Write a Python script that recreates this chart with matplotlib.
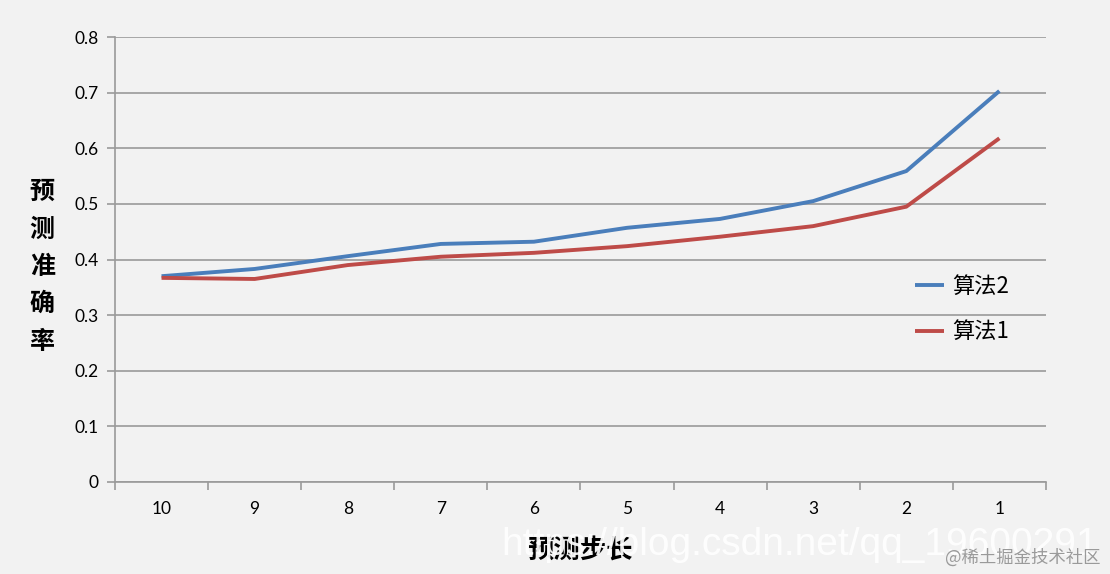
import matplotlib
matplotlib.use("Agg")
import matplotlib.pyplot as plt
import numpy as np

plt.rcParams['font.family'] = ['Lato', 'Noto Sans CJK SC', 'DejaVu Sans']

# data
steps = ['10', '9', '8', '7', '6', '5', '4', '3', '2', '1']
algo2 = [0.370, 0.383, 0.406, 0.428, 0.432, 0.457, 0.473, 0.505, 0.559, 0.703]
algo1 = [0.367, 0.365, 0.390, 0.405, 0.412, 0.424, 0.441, 0.460, 0.495, 0.618]
yticks = [0, 0.1, 0.2, 0.3, 0.4, 0.5, 0.6, 0.7, 0.8]

bg = '#f2f2f2'
grid_c = '#9a9a9a'

fig = plt.figure(figsize=(11.1, 5.74), dpi=100, facecolor=bg)
ax = fig.add_axes([0.1036, 0.1603, 0.8387, 0.7752], facecolor=bg)

x = np.arange(len(steps))
ax.plot(x, algo2, color='#4a7ebb', lw=2.8, label='算法2', solid_capstyle='butt')
ax.plot(x, algo1, color='#be4b48', lw=2.8, label='算法1', solid_capstyle='butt')

ax.set_xlim(-0.5, len(steps) - 0.5)
ax.set_ylim(0, 0.8)
ax.set_yticks(yticks)
ax.set_yticklabels([f'{v:g}' for v in yticks], fontsize=12.5)
ax.yaxis.grid(True, color=grid_c, lw=1.2)
ax.set_axisbelow(True)

# category labels centered, tick marks between categories
ax.set_xticks(x)
ax.set_xticklabels(steps, fontsize=12.5)
ax.tick_params(axis='x', length=0, pad=14)
ax.set_xticks(np.arange(-0.5, len(steps)), minor=True)
ax.tick_params(axis='x', which='minor', length=6, color=grid_c, width=1.2)
ax.tick_params(axis='y', length=6, color=grid_c, width=1.2, pad=6)

for s in ['top', 'right']:
    ax.spines[s].set_visible(False)
for s in ['left', 'bottom']:
    ax.spines[s].set_color(grid_c)
    ax.spines[s].set_linewidth(1.2)

# vertical stacked y label
fig.text(0.038, 0.535, '\n'.join('预测准确率'), fontsize=18, fontweight='bold',
         family=['Noto Sans CJK SC'], ha='center', va='center', linespacing=1.7)
fig.text(0.523, 0.040, '预测步长', fontsize=19, fontweight='bold',
         family=['Noto Sans CJK SC'], ha='center', va='center')

leg = ax.legend(loc='upper left', bbox_to_anchor=(0.859, 0.465), frameon=False,
                borderaxespad=0, borderpad=0, handlelength=1.3, handletextpad=0.4,
                labelspacing=1.0,
                prop={'family': ['Noto Sans CJK SC', 'DejaVu Sans'], 'size': 16})

# watermarks
fig.text(0.72, 0.033, 'https://blog.csdn.net/qq_19600291', fontsize=28, color='white',
         ha='center', va='baseline', family=['Liberation Sans'], alpha=0.92)
fig.text(0.921, 0.028, '@稀土掘金技术社区', fontsize=12.5, color='#9a9a9a',
         ha='center', va='center', family=['Noto Sans CJK SC'])

fig.savefig('out.png', dpi=100, facecolor=bg)
